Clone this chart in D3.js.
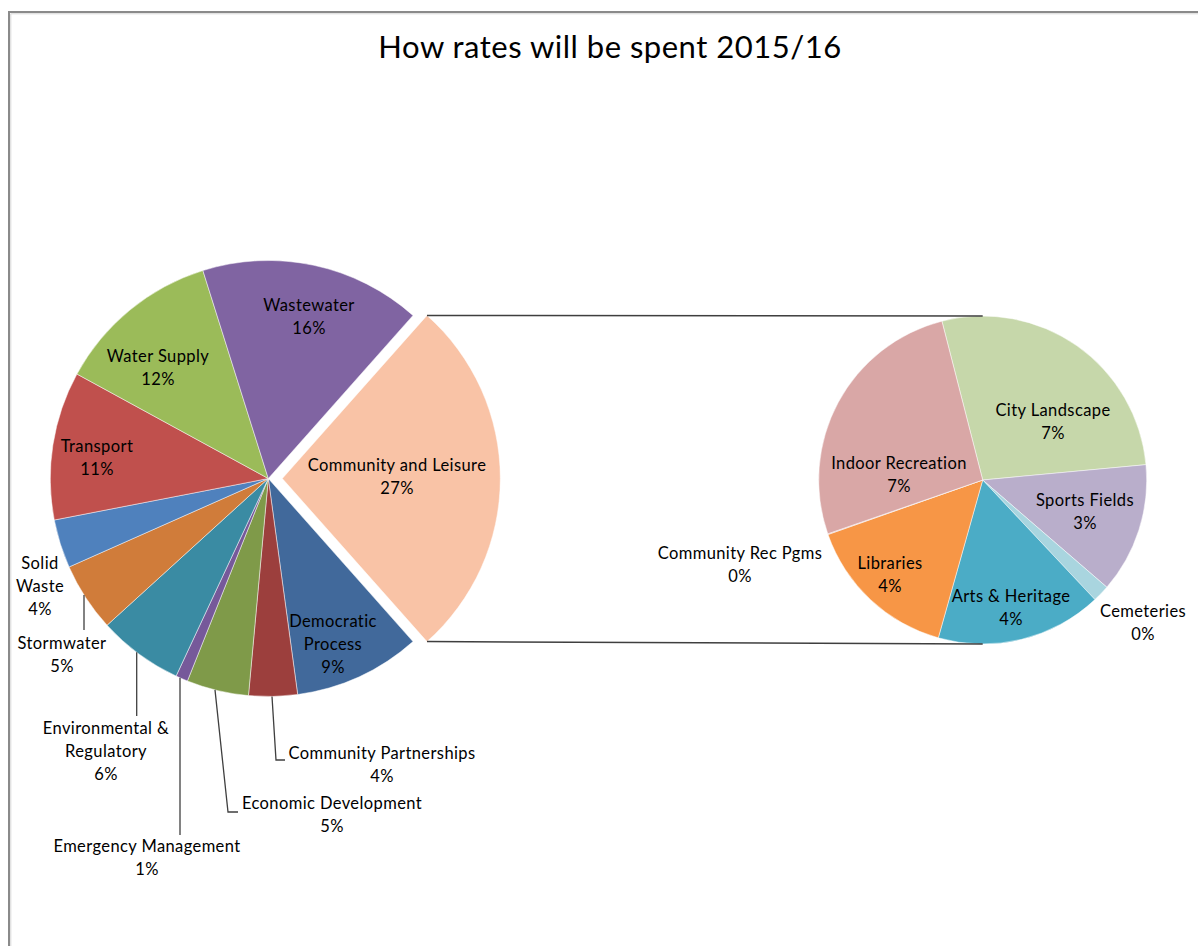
<!DOCTYPE html>
<html>
<head>
<meta charset="utf-8">
<script src="https://cdn.jsdelivr.net/npm/d3@7"></script>
<style>
  html, body { margin: 0; padding: 0; background: #fff; }
  svg { display: block; }
  text { font-family: Lato, "Open Sans", sans-serif; fill: #000; }
</style>
</head>
<body>
<svg id="chart" width="1198" height="946"></svg>
<script>
// ---- data (share of rates, %) ----
const chartTitle = "How rates will be spent 2015/16";
const groupName = "Community and Leisure";

const mainCategories = [
  "Democratic Process", "Community Partnerships", "Economic Development",
  "Emergency Management", "Environmental & Regulatory", "Stormwater",
  "Solid Waste", "Transport", "Water Supply", "Wastewater"
];
const mainValues = [9.4, 3.6, 4.6, 0.9, 6.3, 5.1, 3.6, 11.0, 12.2, 16.4];

const subCategories = [
  "City Landscape", "Sports Fields", "Cemeteries", "Arts & Heritage",
  "Libraries", "Community Rec Pgms", "Indoor Recreation"
];
const subValues = [7.4, 3.45, 0.45, 4.4, 4.1, 0.02, 7.08];

const mainColors = {
  "Community and Leisure": "#f9c3a6",
  "Democratic Process": "#41699b",
  "Community Partnerships": "#9c3f3d",
  "Economic Development": "#7f9a49",
  "Emergency Management": "#76599a",
  "Environmental & Regulatory": "#3a8ba3",
  "Stormwater": "#d07c3a",
  "Solid Waste": "#4f81bd",
  "Transport": "#c0504d",
  "Water Supply": "#9bbb59",
  "Wastewater": "#8064a2"
};
const subColors = {
  "City Landscape": "#c6d7aa",
  "Sports Fields": "#b9aecb",
  "Cemeteries": "#a9d5df",
  "Arts & Heritage": "#4bacc6",
  "Libraries": "#f79646",
  "Community Rec Pgms": "#d9a7a6",
  "Indoor Recreation": "#d9a7a6"
};

// ---- layout ----
const W = 1198, H = 946;
const main = { cx: 268.3, cy: 478.5, r: 218, explode: 14 };
const sub = { cx: 982.7, cy: 480, r: 164, start: -14.4 * Math.PI / 180 };

// label anchors: x centre, y of first baseline, wrapped lines
const labelLayout = {
  "Community and Leisure": { x: 397, y: 470.5, lines: ["Community and Leisure"] },
  "Wastewater": { x: 309, y: 310.5, lines: ["Wastewater"] },
  "Water Supply": { x: 158, y: 361.5, lines: ["Water Supply"] },
  "Transport": { x: 97, y: 452, lines: ["Transport"] },
  "Democratic Process": { x: 333, y: 626.5, lines: ["Democratic", "Process"] },
  "Solid Waste": { x: 40, y: 568.5, lines: ["Solid", "Waste"] },
  "Stormwater": { x: 62, y: 648.5, lines: ["Stormwater"] },
  "Environmental & Regulatory": { x: 106, y: 733.5, lines: ["Environmental &", "Regulatory"] },
  "Emergency Management": { x: 147, y: 852, lines: ["Emergency Management"] },
  "Economic Development": { x: 332, y: 808.5, lines: ["Economic Development"] },
  "Community Partnerships": { x: 382, y: 758.5, lines: ["Community Partnerships"] },
  "City Landscape": { x: 1053, y: 415.5, lines: ["City Landscape"] },
  "Indoor Recreation": { x: 899, y: 468.5, lines: ["Indoor Recreation"] },
  "Sports Fields": { x: 1085, y: 505.5, lines: ["Sports Fields"] },
  "Libraries": { x: 890, y: 568.5, lines: ["Libraries"] },
  "Arts & Heritage": { x: 1011, y: 602, lines: ["Arts & Heritage"] },
  "Cemeteries": { x: 1143, y: 617, lines: ["Cemeteries"] },
  "Community Rec Pgms": { x: 740, y: 558.5, lines: ["Community Rec Pgms"] }
};
const lineGap = 23.3;

// leader lines: x where the leader meets the pie rim, then the bends towards the label
const leaderLayout = {
  "Stormwater": { rimX: 84, bends: [[84, 630]] },
  "Environmental & Regulatory": { rimX: 136.7, bends: [[136.7, 716]] },
  "Emergency Management": { rimX: 180, bends: [[180, 835]] },
  "Economic Development": { rimX: 215, bends: [[228, 812], [238, 812]] },
  "Community Partnerships": { rimX: 272, bends: [[276, 760], [285, 760]] }
};

// ---- build ----
const svg = d3.select("#chart");

// chart frame
svg.append("path").attr("d", `M9,${H} V12 H${W}`)
  .attr("fill", "none").attr("stroke", "#8a8a8a").attr("stroke-width", 2);
svg.append("path").attr("d", `M10.8,${H} V13.8 H${W}`)
  .attr("fill", "none").attr("stroke", "#d6d6d6").attr("stroke-width", 1);

svg.append("text")
  .attr("x", 610).attr("y", 58)
  .attr("text-anchor", "middle")
  .style("font-size", "31px")
  .style("letter-spacing", "0.5px")
  .text(chartTitle);

const groupTotal = d3.sum(subValues);
const total = groupTotal + d3.sum(mainValues);
const pct = d3.format(".0%");

const mainData = [{ name: groupName, value: groupTotal, group: true }]
  .concat(mainCategories.map((n, i) => ({ name: n, value: mainValues[i] })));
const subData = subCategories.map((n, i) => ({ name: n, value: subValues[i] }));

// split slice centred on the right-hand side
const mainStart = Math.PI / 2 - Math.PI * groupTotal / total;
const mainPie = d3.pie().sort(null).value(d => d.value)
  .startAngle(mainStart).endAngle(mainStart + 2 * Math.PI);
const subPie = d3.pie().sort(null).value(d => d.value)
  .startAngle(sub.start).endAngle(sub.start + 2 * Math.PI);

const mainArc = d3.arc().innerRadius(0).outerRadius(main.r);
const subArc = d3.arc().innerRadius(0).outerRadius(sub.r);

const mainArcs = mainPie(mainData);
const subArcs = subPie(subData);

function explodeOffset(d) {
  if (!d.data.group) return [0, 0];
  const mid = (d.startAngle + d.endAngle) / 2;
  return [main.explode * Math.sin(mid), -main.explode * Math.cos(mid)];
}

const gMain = svg.append("g").attr("transform", `translate(${main.cx},${main.cy})`);
gMain.selectAll("path").data(mainArcs).join("path")
  .attr("d", mainArc)
  .attr("transform", d => `translate(${explodeOffset(d)})`)
  .attr("fill", d => mainColors[d.data.name])
  .attr("stroke", "#ffffff").attr("stroke-width", 0.8).attr("stroke-opacity", 0.6);

const gSub = svg.append("g").attr("transform", `translate(${sub.cx},${sub.cy})`);
gSub.selectAll("path").data(subArcs).join("path")
  .attr("d", subArc)
  .attr("fill", d => subColors[d.data.name])
  .attr("stroke", "#ffffff").attr("stroke-width", 0.8).attr("stroke-opacity", 0.6);

// connector lines from the split slice to the secondary pie
const groupArc = mainArcs.find(d => d.data.group);
const off = explodeOffset(groupArc);
const corner = a => [main.cx + off[0] + main.r * Math.sin(a), main.cy + off[1] - main.r * Math.cos(a)];
const connectors = [
  [corner(groupArc.startAngle), [sub.cx, sub.cy - sub.r]],
  [corner(groupArc.endAngle), [sub.cx, sub.cy + sub.r]]
];
svg.append("g").selectAll("line").data(connectors).join("line")
  .attr("x1", d => d[0][0]).attr("y1", d => d[0][1])
  .attr("x2", d => d[1][0]).attr("y2", d => d[1][1])
  .attr("stroke", "#3f3f3f").attr("stroke-width", 1.5);

// leader lines
const leaders = Object.entries(leaderLayout).map(([name, l]) => {
  const rimY = main.cy + Math.sqrt(main.r * main.r - (l.rimX - main.cx) ** 2);
  return [[l.rimX, rimY]].concat(l.bends);
});
svg.append("g").selectAll("path").data(leaders).join("path")
  .attr("d", d3.line())
  .attr("fill", "none").attr("stroke", "#3f3f3f").attr("stroke-width", 1.3);

// data labels
const allLabels = mainArcs.map(d => d.data).concat(subArcs.map(d => d.data));
const gLabels = svg.append("g").style("font-size", "16.5px").style("letter-spacing", "0.4px");
allLabels.forEach(d => {
  const L = labelLayout[d.name];
  const lines = L.lines.concat([pct(d.value / total)]);
  const t = gLabels.append("text").attr("text-anchor", "middle");
  lines.forEach((s, i) => {
    t.append("tspan").attr("x", L.x).attr("y", L.y + i * lineGap).text(s);
  });
});
</script>
</body>
</html>
